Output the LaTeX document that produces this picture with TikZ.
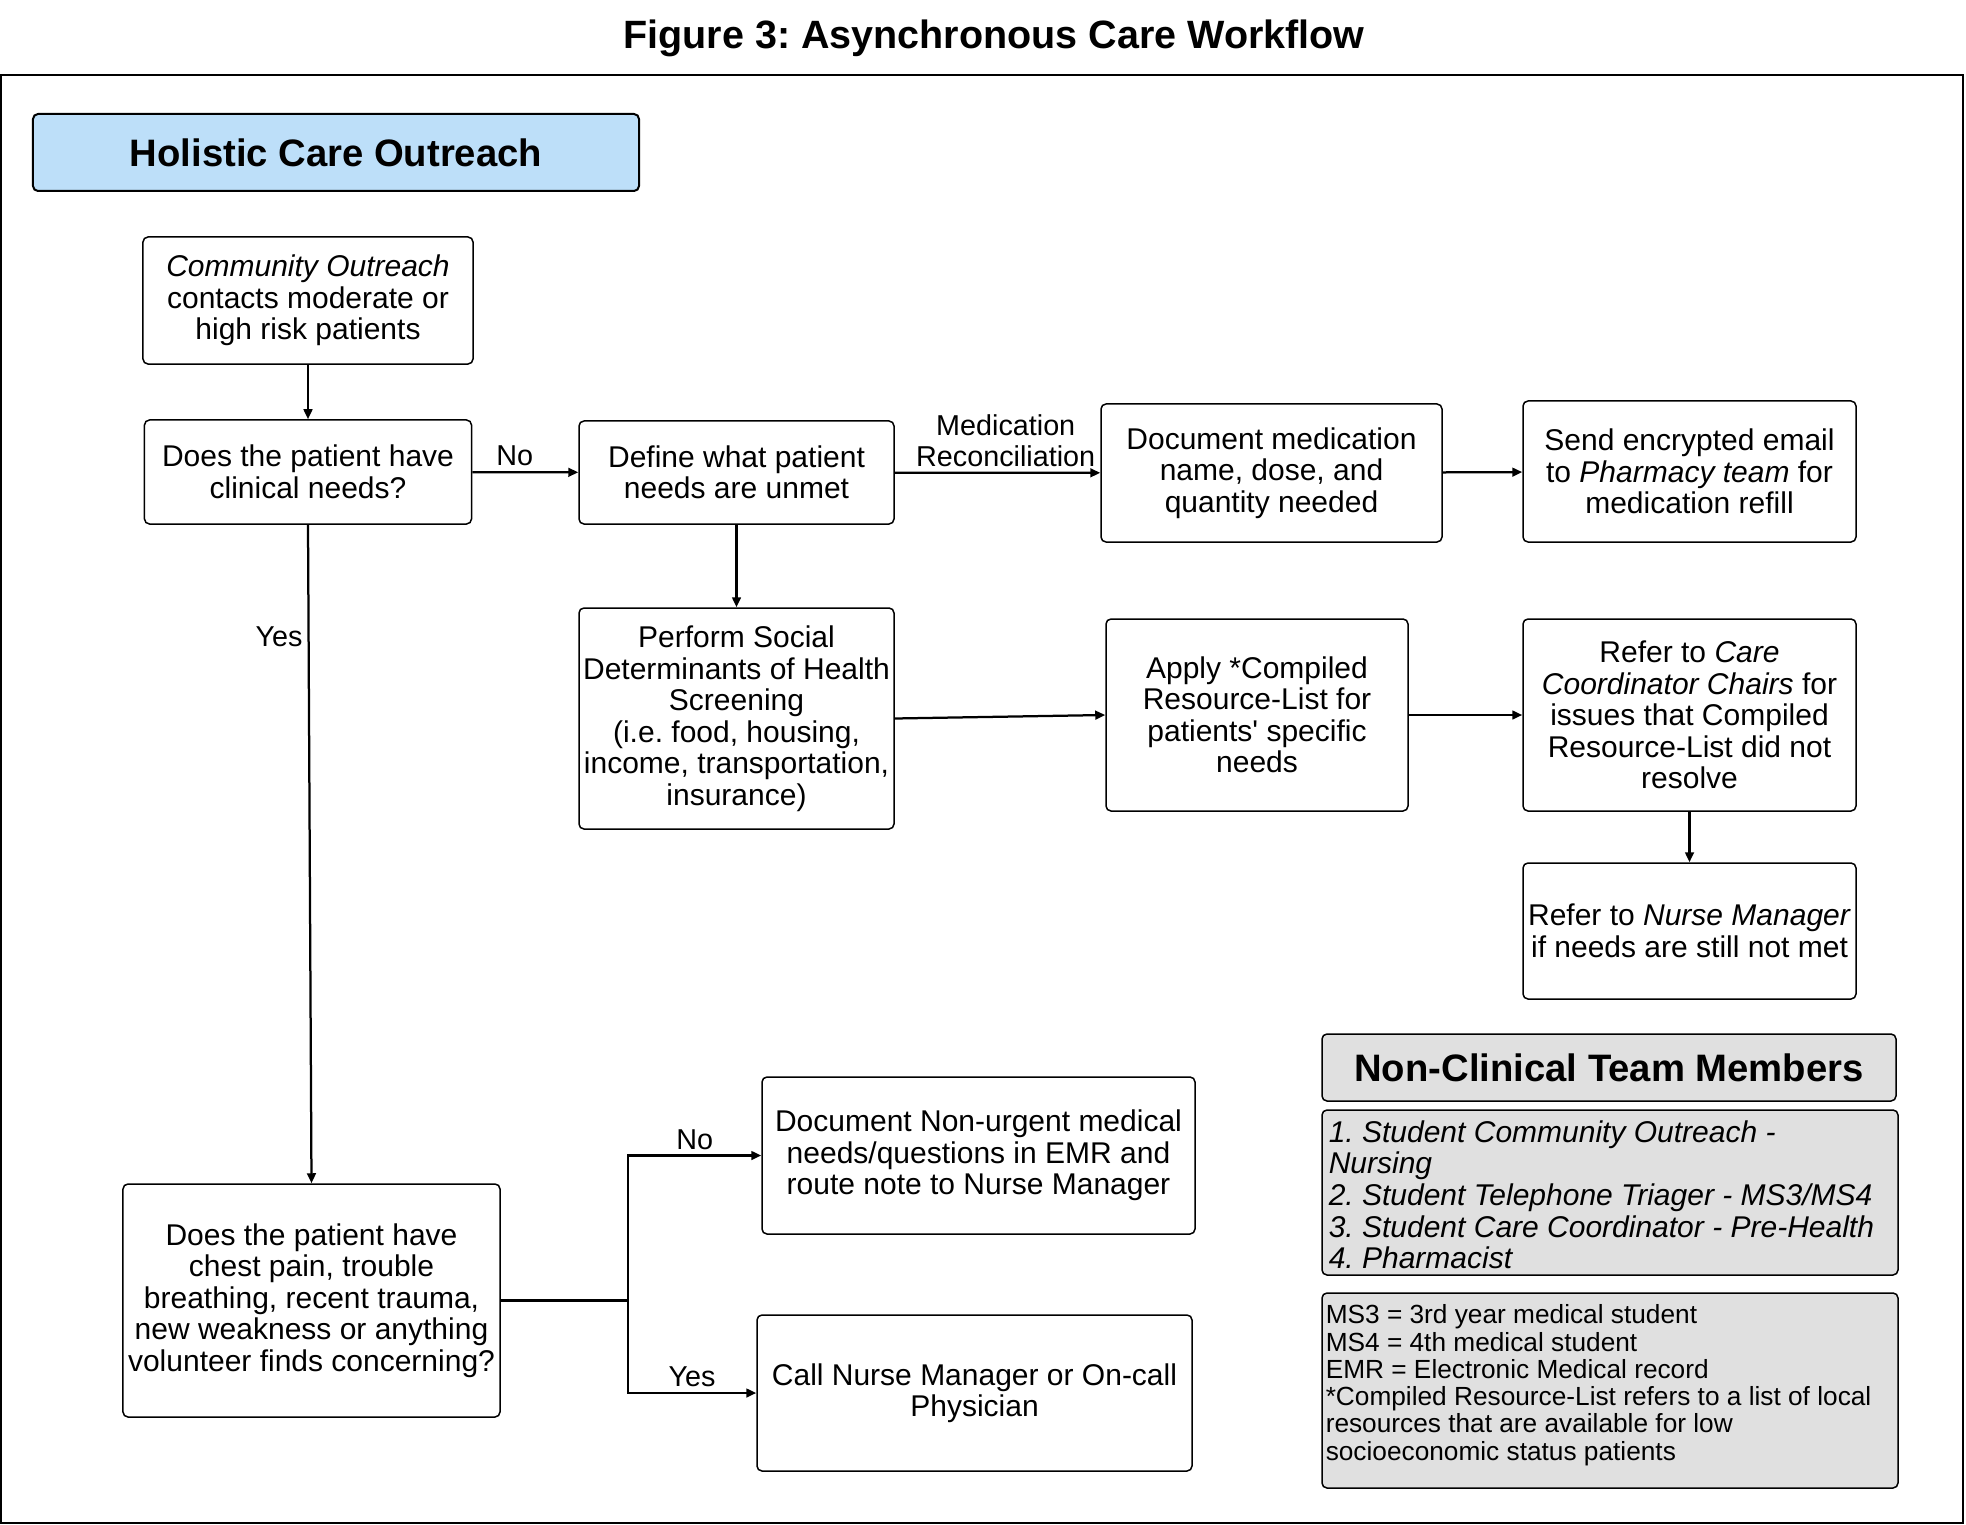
\documentclass[tikz,border=0pt]{standalone}
\usepackage{fontspec}
\setmainfont{Liberation Sans}
\usetikzlibrary{arrows.meta, positioning, calc}
\definecolor{headblue}{RGB}{189,223,249}
\definecolor{notegray}{RGB}{224,224,224}
\frenchspacing

\begin{document}
\begin{tikzpicture}[x=0.4pt, y=-0.4pt,
  box/.style={draw, rounded corners=2pt, line width=0.6pt, align=center, inner sep=1pt, font=\fontsize{12}{12.6}\selectfont},
  header/.style={draw, rounded corners=2pt, line width=0.8pt, font=\fontsize{15.3}{17}\selectfont\bfseries},
  note/.style={draw, fill=notegray, rounded corners=2pt, line width=0.6pt},
  flow/.style={-{Triangle[length=4pt,width=3.5pt]}, line width=0.9pt},
  lbl/.style={font=\fontsize{11.5}{12.3}\selectfont, align=center, inner sep=2pt}]
  \useasboundingbox (0,0) rectangle (1966,1525);

  \node[font=\fontsize{15.8}{18}\selectfont\bfseries] (title) at (994,38) {Figure 3: Asynchronous Care Workflow};
  \draw[line width=0.8pt] (1,75) rectangle (1963,1523);

  \node[header, fill=headblue, minimum width=242.4pt, minimum height=30.8pt] (holistic) at (336,152.5) {Holistic Care Outreach};

  \node[box, minimum width=132pt, minimum height=50.8pt] (outreach) at (308,300.5) {\textit{Community Outreach}\\contacts moderate or\\high risk patients};
  \node[box, minimum width=130.8pt, minimum height=41.6pt] (clinical) at (308,472) {Does the patient have\\clinical needs?};
  \node[box, minimum width=126pt, minimum height=41.2pt] (define) at (736.5,472.5) {Define what patient\\needs are unmet};
  \node[box, minimum width=136.4pt, minimum height=55.2pt] (docmed) at (1271.5,473) {Document medication\\name, dose, and\\quantity needed};
  \node[box, minimum width=133.2pt, minimum height=56.4pt] (email) at (1689.5,471.5) {Send encrypted email\\to \textit{Pharmacy team} for\\medication refill};
  \node[box, minimum width=126pt, minimum height=88.4pt] (sdoh) at (736.5,718.5) {Perform Social\\Determinants of Health\\Screening\\(i.e. food, housing,\\income, transportation,\\insurance)};
  \node[box, minimum width=120.8pt, minimum height=76.8pt] (apply) at (1257,715) {Apply *Compiled\\Resource-List for\\patients\textquotesingle{} specific\\needs};
  \node[box, minimum width=133.2pt, minimum height=76.8pt] (coord) at (1689.5,715) {Refer to \textit{Care}\\\textit{Coordinator Chairs} for\\issues that Compiled\\Resource-List did not\\resolve};
  \node[box, minimum width=133.2pt, minimum height=54.4pt] (nursemgr) at (1689.5,931) {Refer to \textit{Nurse Manager}\\if needs are still not met};
  \node[box, minimum width=150.8pt, minimum height=93.2pt] (chest) at (311.5,1300.5) {Does the patient have\\chest pain, trouble\\breathing, recent trauma,\\new weakness or anything\\volunteer finds concerning?};
  \node[box, minimum width=173.2pt, minimum height=62.8pt] (nonurgent) at (978.5,1155.5) {Document Non-urgent medical\\needs/questions in EMR and\\route note to Nurse Manager};
  \node[box, minimum width=174pt, minimum height=62.4pt] (call) at (974.5,1393) {Call Nurse Manager or On-call\\Physician};

  % legend
  \node[header, fill=notegray, line width=0.6pt, minimum width=229.6pt, minimum height=26.8pt] (ncheader) at (1609,1067.5) {Non-Clinical Team Members};
  \node[note, minimum width=230.4pt, minimum height=66pt] (roles) at (1610,1192.5) {};
  \node[anchor=north west, inner sep=0pt, align=left, font=\fontsize{12}{12.6}\selectfont\itshape] (rolestext) at ($(roles.north west)+(7,11)$) {1. Student Community Outreach -\\Nursing\\2. Student Telephone Triager - MS3/MS4\\3. Student Care Coordinator - Pre-Health\\4. Pharmacist};
  \node[note, minimum width=230.4pt, minimum height=78pt] (abbrev) at (1610,1390.5) {};
  \node[anchor=north west, inner sep=0pt, align=left, font=\fontsize{10.5}{10.9}\selectfont] (abbrevtext) at ($(abbrev.north west)+(4,12)$) {MS3 = 3rd year medical student\\MS4 = 4th medical student\\EMR = Electronic Medical record\\*Compiled Resource-List refers to a list of local\\resources that are available for low\\socioeconomic status patients};

  % connectors
  \draw[flow] (outreach) -- (clinical);
  \draw[flow] (clinical) -- node[lbl, above, pos=0.4] {No} (define);
  \draw[flow] (define) -- node[lbl, above, pos=0.54] {Medication\\Reconciliation} (docmed);
  \draw[flow] (docmed) -- (email);
  \draw[flow] (define) -- (sdoh);
  \draw[flow] (sdoh.east) -- (apply.west);
  \draw[flow] (apply) -- (coord);
  \draw[flow] (coord) -- (nursemgr);
  \draw[flow] (clinical.south) -- node[lbl, left, pos=0.17] {Yes} (chest.north);
  \coordinate (split) at (628,1300.5);
  \draw[line width=0.9pt] (chest.east) -- (split);
  \draw[flow] (split) |- node[lbl, above, pos=0.75] {No} (nonurgent.west);
  \draw[flow] (split) |- node[lbl, above, pos=0.75] {Yes} (call.west);
\end{tikzpicture}
\end{document}
